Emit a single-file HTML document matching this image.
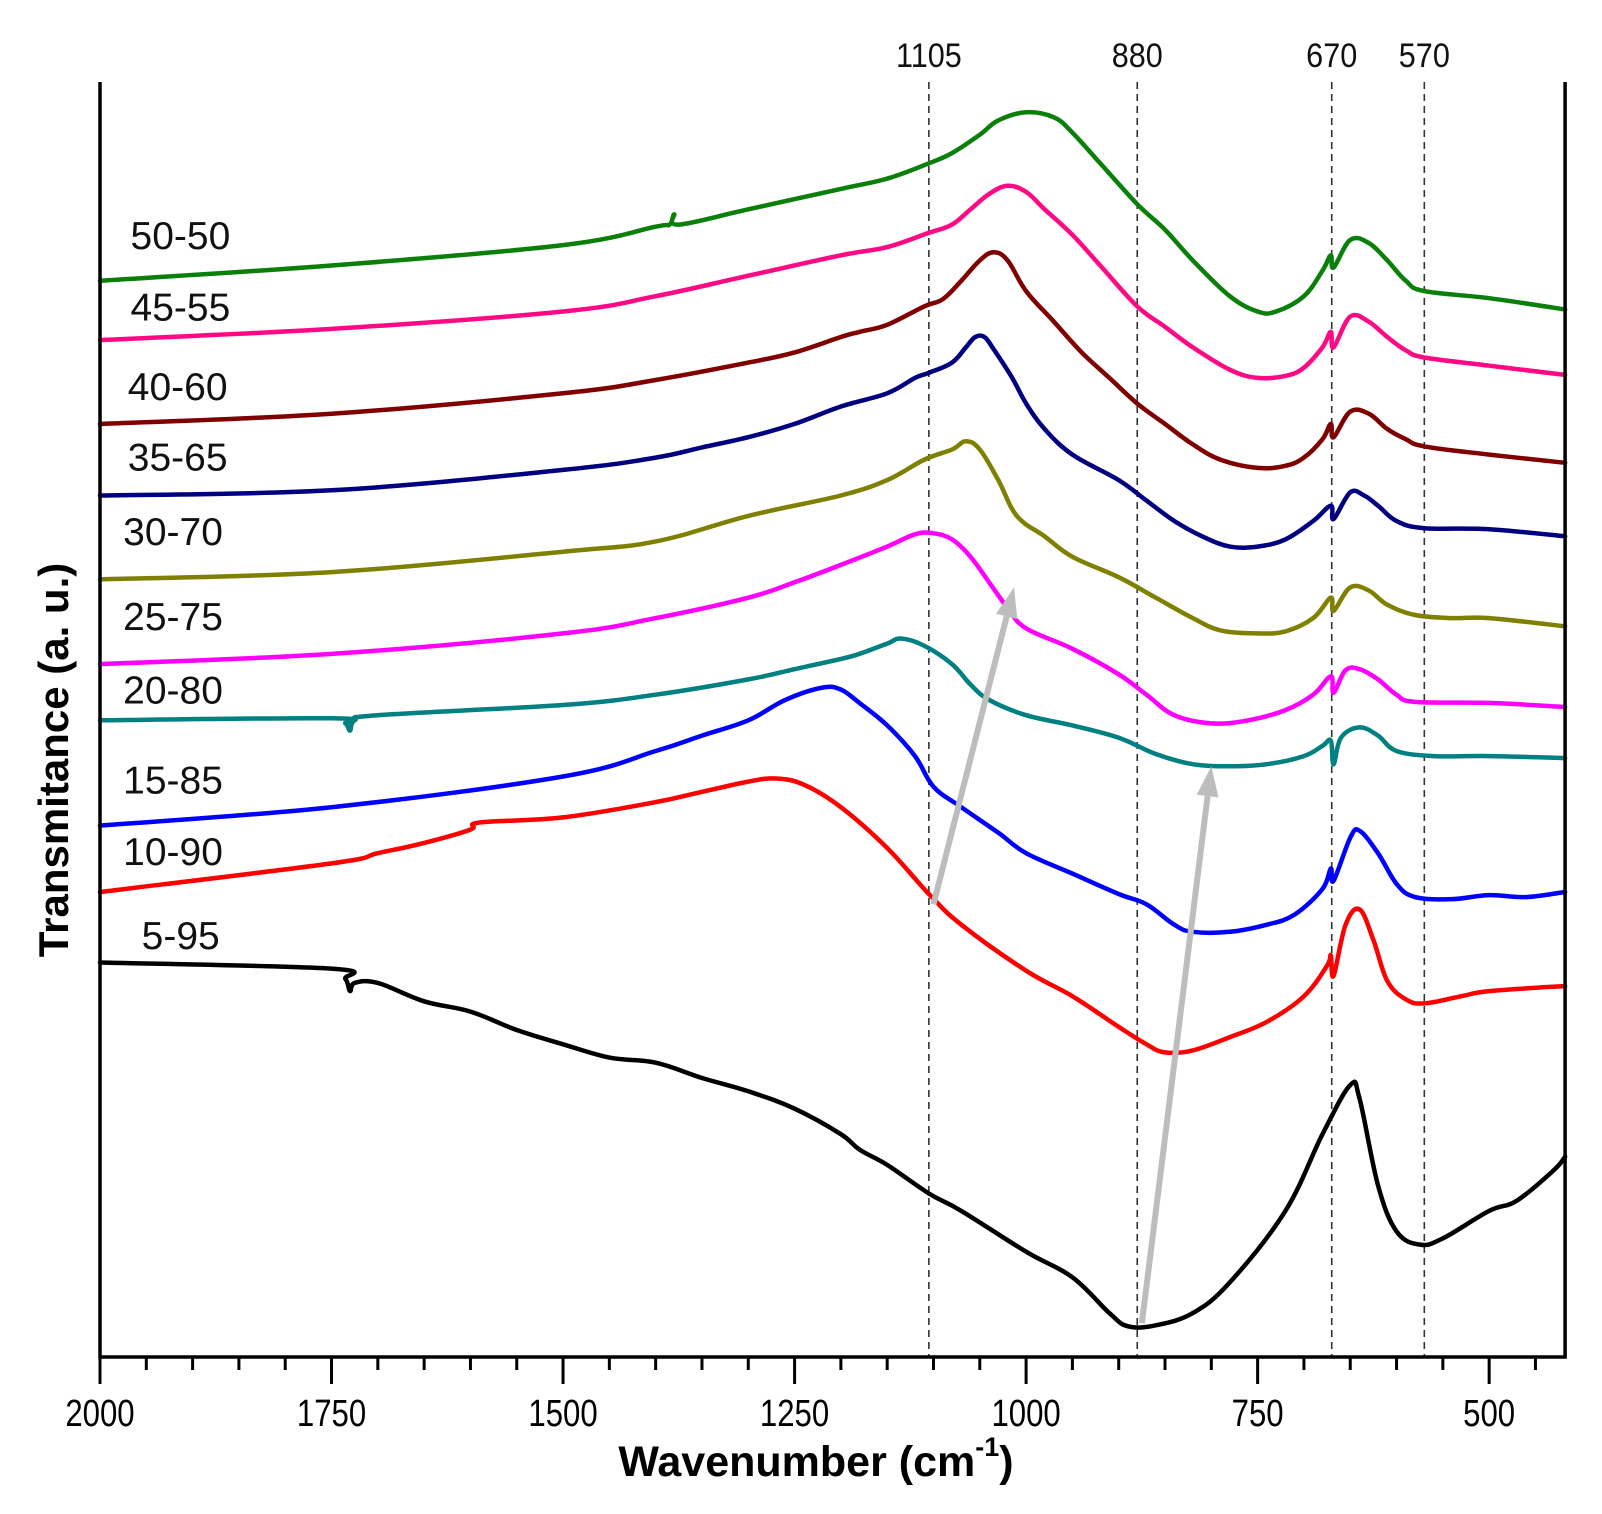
<!DOCTYPE html>
<html><head><meta charset="utf-8"><style>
html,body{margin:0;padding:0;background:#fff}
svg{display:block}
text{font-family:"Liberation Sans",Arial,sans-serif}
</style></head><body>
<svg id="chart" width="1602" height="1514" viewBox="0 0 1602 1514" xmlns="http://www.w3.org/2000/svg"></svg>
<script>
// Wavenumbers (cm^-1) and transmittance readouts (depth units, larger = lower on plot)
const seriesNames = ["5-95","10-90","15-85","20-80","25-75","30-70","35-65","40-60","45-55","50-50"];
const seriesColors = ["#000000","#ff0000","#0000ff","#008080","#ff00ff","#808000","#000080","#800000","#ff0a84","#0a800a"];
const w595 = [2000,1750,1735,1730,1725,1700,1650,1600,1550,1500,1450,1400,1350,1300,1250,1200,1180,1150,1105,1070,1000,950,910,890,860,820,780,720,680,650,640,620,600,575,550,500,470,430,418];
const v595 = [942,948,958,970,962,962,980,990,1008,1022,1035,1040,1055,1068,1085,1110,1125,1140,1168,1185,1225,1250,1285,1298,1297,1285,1255,1185,1110,1062,1075,1160,1205,1218,1212,1185,1175,1145,1132];
const w1090 = [2000,1750,1700,1650,1600,1590,1500,1400,1350,1300,1270,1240,1200,1150,1105,1070,1000,950,900,870,850,820,780,740,700,675,671,668,655,640,625,610,590,570,530,500,418];
const v1090 = [873,845,835,825,812,805,800,785,775,765,762,768,790,830,875,905,950,975,1005,1022,1030,1028,1015,1000,975,945,935,955,905,890,920,960,978,982,975,970,965];
const w1585 = [2000,1750,1500,1400,1350,1300,1260,1220,1200,1180,1150,1120,1100,1070,1030,1000,950,900,870,840,820,780,740,710,680,671,668,650,640,620,600,580,540,500,460,418];
const v1585 = [808,790,760,735,720,705,685,673,675,688,710,740,770,790,815,835,855,875,885,905,912,912,905,895,870,850,862,820,813,835,865,878,880,876,878,873];
const w2080 = [2000,1750,1735,1730,1725,1700,1500,1400,1300,1250,1200,1180,1150,1135,1110,1080,1060,1040,1000,950,900,860,820,780,740,700,680,671,668,660,640,620,600,560,500,418];
const v2080 = [705,703,708,715,705,700,690,680,665,655,645,640,630,625,632,650,670,685,700,710,722,738,748,750,748,740,730,725,748,722,712,720,735,740,740,742];
const w2575 = [2000,1750,1500,1400,1300,1250,1200,1150,1120,1100,1080,1060,1040,1020,1000,950,900,870,840,800,760,720,690,671,668,655,640,620,600,580,500,418];
const v2575 = [650,640,620,605,585,570,553,535,523,522,528,545,570,595,615,635,660,680,700,708,705,695,680,662,678,656,655,665,680,687,688,692];
const w3070 = [2000,1750,1500,1400,1300,1200,1150,1110,1080,1065,1050,1030,1010,980,950,900,860,820,790,750,720,690,671,668,650,630,610,580,540,500,418];
const v3070 = [567,560,540,530,505,485,470,450,440,432,440,470,505,525,545,565,585,605,617,620,618,605,585,598,575,578,592,602,605,605,613];
const w3565 = [2000,1750,1500,1400,1350,1300,1250,1200,1150,1120,1105,1080,1065,1055,1045,1035,1015,1000,980,950,900,870,840,810,780,750,720,690,671,668,650,635,620,600,570,500,418];
const v3565 = [485,480,460,448,438,428,415,398,385,370,365,355,340,330,330,342,370,395,420,445,470,490,510,525,535,535,528,510,495,508,482,485,495,510,517,518,525];
const w4060 = [2000,1750,1500,1400,1300,1250,1200,1180,1150,1110,1090,1070,1050,1035,1020,1000,970,940,910,880,850,820,790,750,720,700,680,671,668,650,630,610,590,570,500,418];
const v4060 = [415,405,385,372,355,345,330,325,318,300,293,275,255,247,255,285,315,345,370,395,415,435,450,458,456,448,430,415,428,403,405,420,430,437,445,453];
const w4555 = [2000,1750,1500,1400,1300,1200,1150,1105,1080,1060,1040,1020,1000,980,950,920,880,850,820,780,750,720,700,680,671,668,650,630,610,590,570,500,418];
const v4555 = [333,322,305,290,270,250,242,228,220,205,190,182,188,205,230,260,300,320,340,362,370,368,360,340,325,340,310,315,330,343,350,358,367];
const w5050 = [2000,1750,1500,1400,1385,1380,1375,1300,1200,1150,1105,1080,1050,1030,1000,970,950,920,880,850,820,780,750,730,700,680,671,668,650,630,610,590,570,500,418];
const v5050 = [275,260,240,222,220,210,220,205,185,175,160,150,132,118,110,115,130,160,200,225,255,290,305,305,290,265,250,262,235,238,255,275,285,292,303];
const seriesW = [w595,w1090,w1585,w2080,w2575,w3070,w3565,w4060,w4555,w5050];
const seriesV = [v595,v1090,v1585,v2080,v2575,v3070,v3565,v4060,v4555,v5050];
const labelV = [915,833,763,675,603,520,447,378,300,230];
const labelW = [1955,1975,1975,1975,1975,1975,1970,1970,1967,1967];
const xTicks = [2000,1750,1500,1250,1000,750,500];
const refLines = [1105,880,670,570];
const refLabels = ["1105","880","670","570"];
const arrowFrom = [[1100,885],[875,1295]];
const arrowTo = [[1013,575],[800,750]];

const NS="http://www.w3.org/2000/svg";
const svg=document.getElementById('chart');
const X0=100, WMAX=2000, WMIN=418, PXW=0.9261;
function xs(w){return X0+(WMAX-w)*PXW;}
function ys(v){return 1357-(1328-v)*1.022;}
function mk(tag,attrs){const e=document.createElementNS(NS,tag);for(const k in attrs)e.setAttribute(k,attrs[k]);svg.appendChild(e);return e;}
function smooth(pts){
  let d='M'+pts[0][0].toFixed(1)+' '+pts[0][1].toFixed(1);
  for(let i=0;i<pts.length-1;i++){
    const p0=pts[Math.max(0,i-1)],p1=pts[i],p2=pts[i+1],p3=pts[Math.min(pts.length-1,i+2)];
    const t=0.18;
    const c1x=p1[0]+(p2[0]-p0[0])*t,c1y=p1[1]+(p2[1]-p0[1])*t;
    const c2x=p2[0]-(p3[0]-p1[0])*t,c2y=p2[1]-(p3[1]-p1[1])*t;
    d+=`C${c1x.toFixed(1)} ${c1y.toFixed(1)} ${c2x.toFixed(1)} ${c2y.toFixed(1)} ${p2[0].toFixed(1)} ${p2[1].toFixed(1)}`;
  }
  return d;
}

// reference dashed lines
refLines.forEach((w,i)=>{
  const l=mk('line',{x1:xs(w),x2:xs(w),y1:82,y2:1357,stroke:'#333','stroke-width':1.6,'stroke-dasharray':'7,5'});
  
  
  const t=mk('text',{x:xs(w),y:67,'font-size':34,'text-anchor':'middle',fill:'#111',transform:`translate(${xs(w)},0) scale(0.9,1) translate(${-xs(w)},0)`});
  t.textContent=refLabels[i];
  
  
});

// series
seriesW.forEach((ws,i)=>{
  const vs=seriesV[i];
  const pts=ws.map((w,j)=>[xs(w),ys(vs[j])]);
  const p=mk('path',{d:smooth(pts),fill:'none',stroke:seriesColors[i],'stroke-width':4.5,'stroke-linejoin':'round','stroke-linecap':'round'});
  
  
  const t=mk('text',{x:xs(labelW[i]),y:ys(labelV[i])+14,'font-size':39,fill:'#111'});
  t.textContent=seriesNames[i];
  
  
});

// arrows
arrowFrom.forEach((a,i)=>{
  const x1=xs(a[0]),y1=ys(a[1]),x2=xs(arrowTo[i][0]),y2=ys(arrowTo[i][1]);
  const dx=x2-x1,dy=y2-y1,L=Math.hypot(dx,dy),ux=dx/L,uy=dy/L;
  const hl=30,hw=11;
  const bx=x2-ux*hl,by=y2-uy*hl;
  const l=mk('line',{x1:x1,y1:y1,x2:bx,y2:by,stroke:'#bdbdbd','stroke-width':6});
  
  
  const h=mk('polygon',{points:`${x2},${y2} ${bx-uy*hw},${by+ux*hw} ${bx+uy*hw},${by-ux*hw}`,fill:'#bdbdbd'});
  
  
});

// axes
const ax=mk('path',{d:`M${X0} 82 L${X0} 1357 L${xs(WMIN)} 1357 L${xs(WMIN)} 82`,fill:'none',stroke:'#000','stroke-width':3.5});


for(let w=2000;w>=WMIN;w-=50){
  const major=w%250===0;
  const t=mk('line',{x1:xs(w),x2:xs(w),y1:1357,y2:1357+(major?27:13),stroke:'#000','stroke-width':3});
  
  
}
xTicks.forEach(w=>{
  const t=mk('text',{x:xs(w),y:1426,'font-size':38,'text-anchor':'middle',fill:'#000',transform:`translate(${xs(w)},0) scale(0.82,1) translate(${-xs(w)},0)`});
  t.textContent=w;
  
  
});
const xt=mk('text',{x:816,y:1476,'font-size':43,'font-weight':'bold','text-anchor':'middle',fill:'#000'});
xt.innerHTML='Wavenumber (cm<tspan dy="-20" font-size="27">-1</tspan><tspan dy="20">)</tspan>';


const yt=mk('text',{x:0,y:0,'font-size':42,'font-weight':'bold','text-anchor':'middle',fill:'#000',transform:'translate(68,760) rotate(-90)'});
yt.textContent='Transmitance (a. u.)';


</script>
</body></html>
